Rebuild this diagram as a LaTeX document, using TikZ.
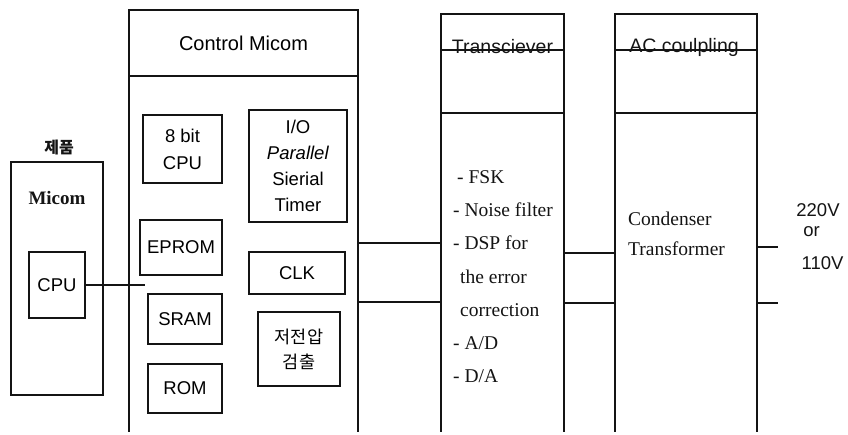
\documentclass[tikz,border=0pt]{standalone}
\usepackage{fontspec}
\setmainfont{Liberation Serif}
\setsansfont{Liberation Sans}
\newfontfamily\kofont{Noto Sans CJK KR}
\usetikzlibrary{positioning,calc}
\definecolor{inkblack}{RGB}{20,20,20}
\tikzset{
  blk/.style={rectangle, draw=inkblack, line width=1.1pt,
    inner sep=0pt, outer sep=0pt, align=center,
    font=\fontsize{18.5}{27}\selectfont\sffamily},
  area/.style={rectangle, inner sep=0pt, outer sep=0pt},
  wire/.style={draw=inkblack, line width=1.1pt},
  sanslbl/.style={font=\fontsize{19.5}{24}\selectfont\sffamily,
    inner sep=0pt, color=inkblack},
  seriflbl/.style={font=\fontsize{19.5}{33.3}\selectfont\rmfamily,
    inner sep=0pt, align=left, color=inkblack}
}
\begin{document}
\begin{tikzpicture}[x=1pt, y=-1pt]
\useasboundingbox (0,0) rectangle (848,435);

%% product side
\node[sanslbl, font=\fontsize{16}{20}\selectfont\kofont\bfseries] (prod) at (59,148) {제품};
\node[blk, minimum width=92pt, minimum height=233pt] (micom) at (57,278.5) {};
\node[seriflbl, font=\fontsize{19}{22}\selectfont\rmfamily\bfseries] (micomtitle) at (57,198) {Micom};
\node[blk, minimum width=56pt, minimum height=66pt] (cpu) at (57,285) {CPU};

%% control micom
\node[blk, minimum width=229pt, minimum height=66pt,
  font=\fontsize{20}{24}\selectfont\sffamily] (ctrlhead) at (243.5,43) {Control Micom};
\node[area, minimum width=229pt, minimum height=356pt] (ctrlbody) at (243.5,254) {};
\draw[wire] (ctrlhead.south west) -- (ctrlbody.south west);
\draw[wire] (ctrlhead.south east) -- (ctrlbody.south east);

\node[blk, minimum width=79pt, minimum height=68pt] (cpu8) at (182.5,149) {8 bit\\CPU};
\node[blk, minimum width=98pt, minimum height=112pt,
  font=\fontsize{18.5}{26}\selectfont\sffamily] (io) at (298,166) {I/O\\\textit{Parallel}\\Sierial\\Timer};
\node[blk, minimum width=82pt, minimum height=55pt] (eprom) at (181,247.5) {EPROM};
\node[blk, minimum width=96pt, minimum height=42pt] (clk) at (297,273) {CLK};
\node[blk, minimum width=74pt, minimum height=50pt] (sram) at (185,319) {SRAM};
\node[blk, minimum width=82pt, minimum height=74pt,
  font=\fontsize{17.5}{25}\selectfont\kofont] (lowvolt) at (299,349) {저전압\\검출};
\node[blk, minimum width=74pt, minimum height=49pt] (rom) at (185,388.5) {ROM};

\coordinate (cpubus) at (145,286);
\draw[wire] (cpu.east) -- (cpu.east -| cpubus);

%% transciever
\node[blk, minimum width=123pt, minimum height=99pt] (trxhead) at (502.5,63.5) {};
\node[sanslbl] (trxtitle) at (502.5,47) {Transciever};
\coordinate (strike) at (0,50);
\draw[wire] (trxhead.west |- strike) -- (trxhead.east |- strike);
\node[area, minimum width=123pt, minimum height=319pt] (trxbody) at (502.5,272.5) {};
\draw[wire] (trxhead.south west) -- (trxbody.south west);
\draw[wire] (trxhead.south east) -- (trxbody.south east);
\node[seriflbl, anchor=north west] (trxlist) at (453,170)
  {\hspace*{4pt}- FSK\\- Noise filter\\- DSP for\\\hspace*{7pt}the error\\\hspace*{7pt}correction\\- A/D\\- D/A};

%% ac coupling
\node[blk, minimum width=142pt, minimum height=99pt] (achead) at (686,63.5) {};
\node[sanslbl] (actitle) at (684,47) {AC coulpling};
\draw[wire] (achead.west |- strike) -- (achead.east |- strike);
\node[area, minimum width=142pt, minimum height=319pt] (acbody) at (686,272.5) {};
\draw[wire] (achead.south west) -- (acbody.south west);
\draw[wire] (achead.south east) -- (acbody.south east);
\node[seriflbl, anchor=north west, font=\fontsize{19.5}{30}\selectfont\rmfamily] (aclist) at (628,212)
  {Condenser\\Transformer};

%% mains
\node[sanslbl, font=\fontsize{18.5}{22}\selectfont\sffamily] (v220) at (818,210.5) {220V};
\node[sanslbl, font=\fontsize{18.5}{22}\selectfont\sffamily] (vor) at (811.5,232) {or};
\node[sanslbl, font=\fontsize{18.5}{22}\selectfont\sffamily] (v110) at (822.5,263.5) {110V};
\coordinate (mains) at (778,0);

%% connections
\coordinate (busa) at (0,243);
\coordinate (busb) at (0,302);
\coordinate (busc) at (0,253);
\coordinate (busd) at (0,303);
\coordinate (buse) at (0,247);
\draw[wire] (ctrlbody.east |- busa) -- (trxbody.west |- busa);
\draw[wire] (ctrlbody.east |- busb) -- (trxbody.west |- busb);
\draw[wire] (trxbody.east |- busc) -- (acbody.west |- busc);
\draw[wire] (trxbody.east |- busd) -- (acbody.west |- busd);
\draw[wire] (acbody.east |- buse) -- (mains |- buse);
\draw[wire] (acbody.east |- busd) -- (mains |- busd);

\end{tikzpicture}
\end{document}
